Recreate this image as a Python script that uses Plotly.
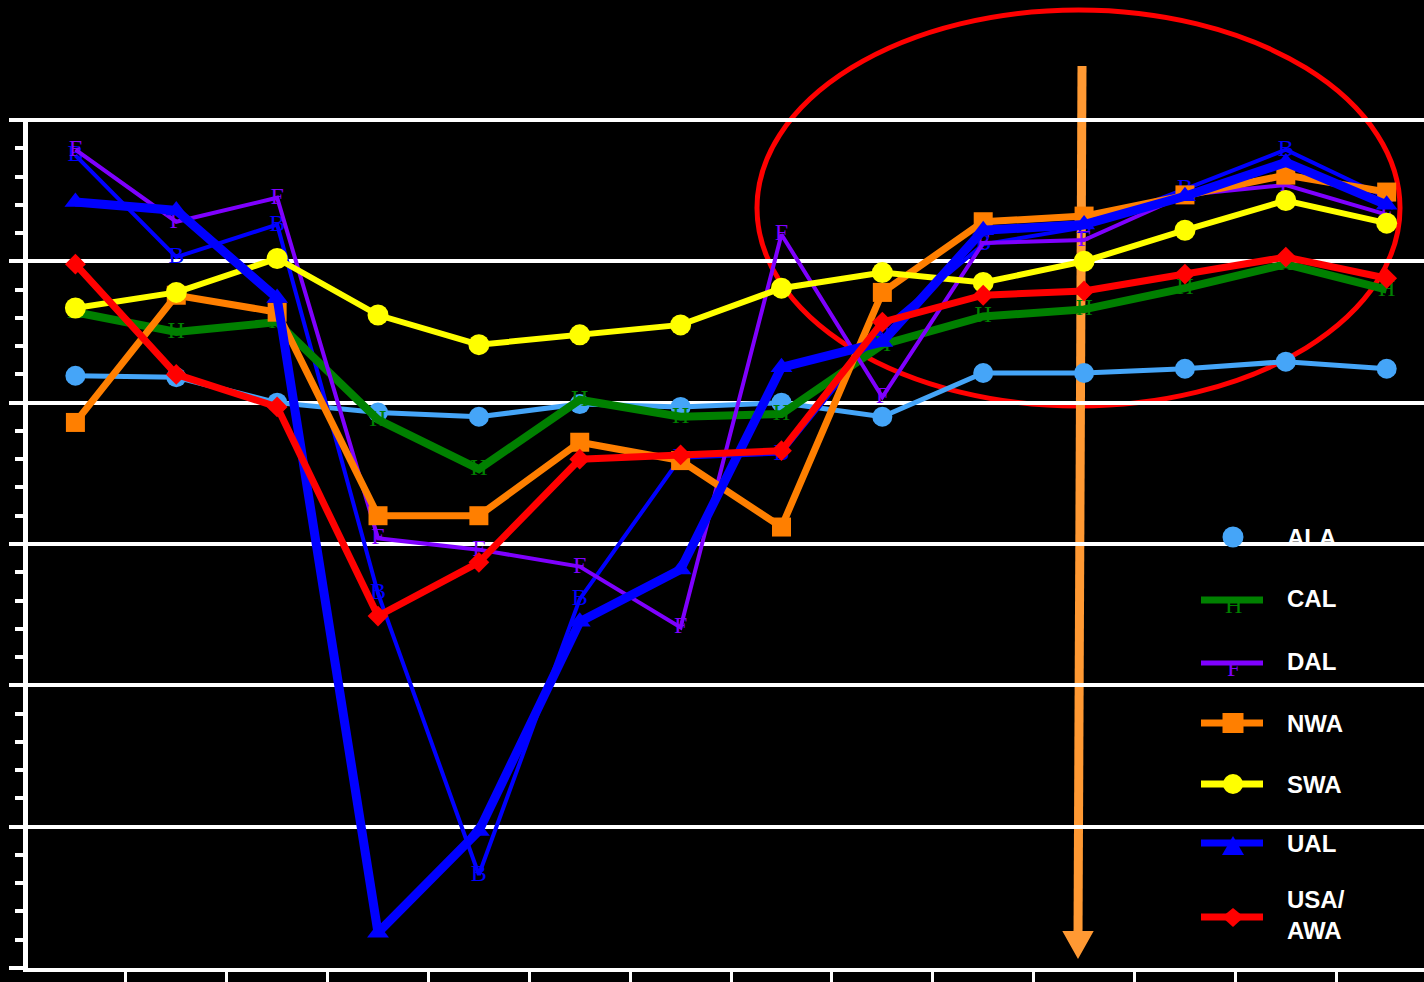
import plotly.graph_objects as go

# ---- data -------------------------------------------------------------
periods = list(range(14))

ala = [41.9, 41.8, 40.0, 39.3, 39.0, 39.9, 39.7, 40.0, 39.0, 42.1, 42.1, 42.4, 42.9, 42.4]
carrier_b = [57.5, 50.3, 52.6, 26.5, 6.6, 26.1, 36.1, 36.4, 45.2, 51.2, 52.4, 55.1, 57.9, 54.5]
cal = [46.4, 45.0, 45.7, 38.8, 35.3, 40.2, 39.0, 39.2, 44.1, 46.1, 46.6, 48.1, 49.8, 48.0]
dal = [57.9, 52.8, 54.5, 30.4, 29.6, 28.4, 24.1, 51.9, 40.4, 51.3, 51.5, 54.7, 55.4, 53.3]
nwa = [38.6, 47.6, 46.4, 32.0, 32.0, 37.2, 35.9, 31.2, 47.8, 52.8, 53.2, 54.7, 56.1, 54.9]
swa = [46.7, 47.8, 50.2, 46.2, 44.1, 44.8, 45.5, 48.1, 49.2, 48.5, 50.0, 52.2, 54.3, 52.7]
ual = [54.2, 53.6, 47.4, 2.5, 9.7, 24.5, 28.2, 42.5, 44.3, 52.2, 52.6, 54.6, 57.0, 54.0]
usa_awa = [49.8, 42.0, 39.7, 24.9, 28.7, 36.0, 36.3, 36.6, 45.7, 47.6, 47.9, 49.1, 50.3, 48.8]

legend_labels = ["ALA", "CAL", "DAL", "NWA", "SWA", "UAL", "USA/<br>AWA"]

# ---- colours ----------------------------------------------------------
C_ALA = "#45A5F8"
C_CAL = "#008000"
C_DAL = "#7F00FF"
C_NWA = "#FF7F00"
C_SWA = "#FFFF00"
C_UAL = "#0000FF"
C_USA = "#FF0000"
C_ARROW = "#FF9933"

SERIF = "Liberation Serif"
SANS = "Liberation Sans"

# ---- page geometry (pixels) -------------------------------------------
FIG_W, FIG_H = 1424, 982
M_L, M_R, M_T, M_B = 28, 0, 118, 14
PLOT_W = FIG_W - M_L - M_R
PLOT_H = FIG_H - M_T - M_B


def px(x):
    return (x - M_L) / PLOT_W


def py(y):
    return (FIG_H - M_B - y) / PLOT_H


fig = go.Figure()


def text_series(name, values, color, width, glyph):
    fig.add_trace(go.Scatter(
        x=periods, y=values, name=name, mode="lines+text",
        text=[glyph] * len(values), textposition="middle center",
        textfont=dict(family=SERIF, size=24, color=color),
        line=dict(color=color, width=width), showlegend=False,
        cliponaxis=False,
    ))


def marker_series(name, values, color, width, symbol, size):
    fig.add_trace(go.Scatter(
        x=periods, y=values, name=name, mode="lines+markers",
        line=dict(color=color, width=width),
        marker=dict(symbol=symbol, size=size, color=color, line=dict(width=0)),
        showlegend=False, cliponaxis=False,
    ))


marker_series("ALA", ala, C_ALA, 5, "circle", 20)
text_series("B", carrier_b, C_UAL, 4, "B")
text_series("CAL", cal, C_CAL, 8, "H")
text_series("DAL", dal, C_DAL, 4, "F")
marker_series("NWA", nwa, C_NWA, 7, "square", 19)
marker_series("SWA", swa, C_SWA, 6, "circle", 21)
marker_series("UAL", ual, C_UAL, 9, "triangle-up", 19)
marker_series("USA/AWA", usa_awa, C_USA, 7, "diamond", 16)

shapes = []
annotations = []

# highlight ellipse and downward arrow
shapes.append(dict(type="circle", xref="paper", yref="paper",
                   x0=px(757), x1=px(1400), y0=py(406), y1=py(10),
                   line=dict(color=C_USA, width=5), layer="between"))
shapes.append(dict(type="path", xref="paper", yref="paper",
                   path=f"M{px(1082)},{py(66)} L{px(1078)},{py(936)}",
                   line=dict(color=C_ARROW, width=9), layer="between"))
shapes.append(dict(type="path", xref="paper", yref="paper",
                   path=(f"M{px(1064)},{py(932)} L{px(1092)},{py(932)} "
                         f"L{px(1078)},{py(957)} Z"),
                   fillcolor=C_ARROW, line=dict(color=C_ARROW, width=2),
                   layer="between"))

# ---- legend drawn beside the lines --------------------------------------
LX0, LX1, LMX, LTX = 1201, 1263, 1233, 1285


def legend_line(y, color, width):
    shapes.append(dict(type="line", xref="paper", yref="paper",
                       x0=px(LX0), x1=px(LX1), y0=py(y), y1=py(y),
                       line=dict(color=color, width=width)))


def legend_label(y, label):
    annotations.append(dict(xref="paper", yref="paper", x=px(LTX), y=py(y),
                            xanchor="left", yanchor="middle", align="left",
                            text=f"<b>{label}</b>", showarrow=False,
                            font=dict(family=SANS, size=24, color="white")))


def legend_glyph(y, glyph, color):
    annotations.append(dict(xref="paper", yref="paper", x=px(LMX), y=py(y + 5),
                            xanchor="center", yanchor="middle", text=glyph,
                            showarrow=False,
                            font=dict(family=SERIF, size=24, color=color)))


rows = [537, 600, 663, 723, 784, 843, 917]

# ALA: marker only
shapes.append(dict(type="circle", xref="paper", yref="paper",
                   x0=px(LMX - 10.5), x1=px(LMX + 10.5),
                   y0=py(rows[0] + 10.5), y1=py(rows[0] - 10.5),
                   fillcolor=C_ALA, line=dict(width=0)))
# CAL
legend_line(rows[1], C_CAL, 7)
legend_glyph(rows[1], "H", C_CAL)
# DAL
legend_line(rows[2], C_DAL, 5)
legend_glyph(rows[2], "F", C_DAL)
# NWA
legend_line(rows[3], C_NWA, 7)
shapes.append(dict(type="rect", xref="paper", yref="paper",
                   x0=px(LMX - 10.5), x1=px(LMX + 10.5),
                   y0=py(rows[3] + 10), y1=py(rows[3] - 10),
                   fillcolor=C_NWA, line=dict(width=0)))
# SWA
legend_line(rows[4], C_SWA, 7)
shapes.append(dict(type="circle", xref="paper", yref="paper",
                   x0=px(LMX - 10), x1=px(LMX + 10),
                   y0=py(rows[4] + 10), y1=py(rows[4] - 10),
                   fillcolor=C_SWA, line=dict(width=0)))
# UAL
legend_line(rows[5], C_UAL, 7)
yU = rows[5]
shapes.append(dict(type="path", xref="paper", yref="paper",
                   path=(f"M{px(LMX - 11)},{py(yU + 12)} L{px(LMX + 11)},{py(yU + 12)} "
                         f"L{px(LMX)},{py(yU - 7)} Z"),
                   fillcolor=C_UAL, line=dict(width=0)))
# USA/AWA
legend_line(rows[6], C_USA, 7)
yR = rows[6]
shapes.append(dict(type="path", xref="paper", yref="paper",
                   path=(f"M{px(LMX - 11)},{py(yR)} L{px(LMX)},{py(yR - 9)} "
                         f"L{px(LMX + 11)},{py(yR)} L{px(LMX)},{py(yR + 10)} Z"),
                   fillcolor=C_USA, line=dict(width=0)))

for y, label in zip([537, 598, 661, 723, 784, 843, 915], legend_labels):
    legend_label(y, label)

# ---- axes ---------------------------------------------------------------
n = len(periods)
fig.update_layout(
    template="none",
    width=FIG_W, height=FIG_H,
    margin=dict(l=M_L, r=M_R, t=M_T, b=M_B, pad=0),
    paper_bgcolor="black",
    plot_bgcolor="rgba(0,0,0,0)",
    showlegend=False,
    shapes=shapes,
    annotations=annotations,
    xaxis=dict(
        range=[-0.47, 13.37], showgrid=False, zeroline=False,
        showline=True, linecolor="white", linewidth=4,
        ticks="outside", tickvals=[i - 0.5 for i in range(n + 1)],
        ticklen=12, tickwidth=3, tickcolor="white",
        showticklabels=False, automargin=False,
    ),
    yaxis=dict(
        range=[0, 60.14], tick0=0, dtick=10,
        showgrid=True, gridcolor="white", gridwidth=4,
        zeroline=False, showline=True, linecolor="white", linewidth=5,
        ticks="outside", ticklen=14, tickwidth=4, tickcolor="white",
        minor=dict(dtick=2, tick0=0, ticks="outside", ticklen=8,
                   tickwidth=4, tickcolor="white", showgrid=False),
        showticklabels=False, automargin=False,
    ),
)

fig.write_html("out.html")
